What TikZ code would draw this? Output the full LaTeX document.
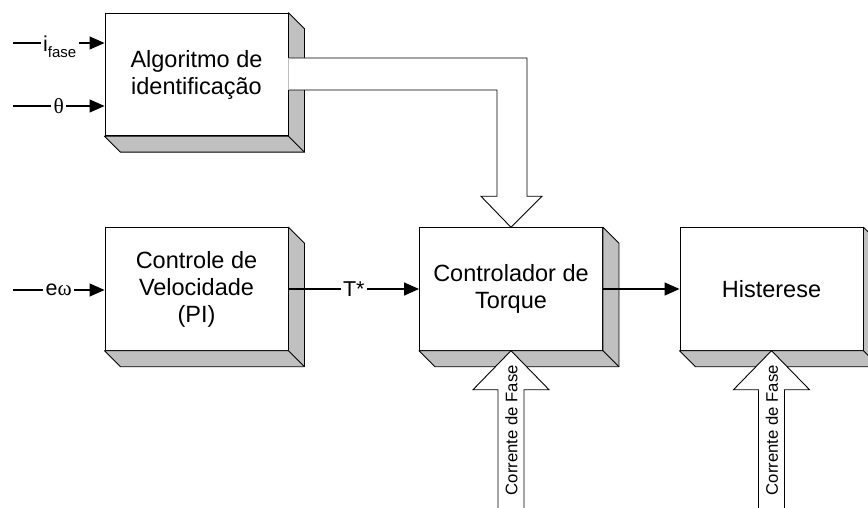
\documentclass[tikz,border=0pt]{standalone}
\usepackage{fontspec}
\setmainfont{Liberation Sans}
\newfontfamily\grk{Liberation Serif}
\usetikzlibrary{arrows.meta,calc}
\definecolor{boxgray}{HTML}{C0C0C0}

% gray right and bottom faces of a raised block
\newcommand\depthsides[1]{%
  \draw[side] (#1.north east) -- ++(16,16) -- ($(#1.south east)+(16,16)$)
    -- ($(#1.south west)+(16,16)$) -- (#1.south west) -- (#1.south east) -- cycle;
  \draw[side] (#1.south east) -- ++(16,16);}

\begin{document}
\begin{tikzpicture}[x=1pt,y=-1pt,
  blk/.style={draw=black,line width=0.9pt,fill=white,minimum width=183pt,
    minimum height=122.5pt,inner sep=0pt,align=center,
    font=\fontsize{23.5}{27}\selectfont},
  side/.style={draw=black,line width=0.9pt,fill=boxgray,line join=round},
  arr/.style={line width=1.3pt,-{Triangle[length=15pt,width=13pt]}},
  lbl/.style={fill=white,inner sep=2.5pt,font=\fontsize{21.5}{21.5}\selectfont},
  hollow/.style={draw=black,line width=0.9pt,fill=white,line join=miter},
  vtxt/.style={rotate=90,inner sep=0pt,font=\fontsize{16.7}{17}\selectfont}]

\useasboundingbox (0,0) rectangle (868,508);

% blocks
\node[blk] (alg) at (196.5,74.5) {Algoritmo de\\identificação};
\depthsides{alg}
\node[blk] (vel) at (196.5,289) {Controle de\\Velocidade\\(PI)};
\depthsides{vel}
\node[blk] (tor) at (511,289) {Controlador de\\Torque};
\depthsides{tor}
\node[blk] (his) at (771.5,289) {Histerese};
\depthsides{his}

% wide arrow from the identification block down to the torque controller
\coordinate (t1) at ([yshift=16.5pt]alg.east);
\coordinate (t2) at ([yshift=-15.5pt]alg.east);
\coordinate (oR) at ($(tor.north)+(16,-31)$);
\coordinate (oL) at ($(tor.north)+(-14,-31)$);
\draw[hollow] (t1) -- (t1 -| oR) -- (oR) -- ($(oR)+(15,0)$) -- (tor.north)
  -- ($(oL)+(-16,0)$) -- (oL) -- (oL |- t2) -- (t2);
\draw[gray!50,line width=0.9pt] (t1) -- (t2);

% phase current inputs
\foreach \b in {tor,his}{
  \draw[hollow] ($(\b.south)+(-13,165)$) -- ($(\b.south)+(-13,39)$)
    -- ($(\b.south)+(-38,39)$) -- (\b.south) -- ($(\b.south)+(38,39)$)
    -- ($(\b.south)+(13,39)$) -- ($(\b.south)+(13,165)$);
  \node[vtxt] (c\b) at ($(\b.south)+(0.5,79.5)$) {Corrente de Fase};
}

% signal inputs and connections
\coordinate (ifase) at (13,43);
\coordinate (theta) at (13,106);
\coordinate (eomega) at (13,290);
\draw[arr] (ifase) -- node[lbl,yshift=-4pt,xshift=1pt] (lifase) {i\raisebox{-6pt}{\fontsize{15}{15}\selectfont fase}} (ifase -| alg.west);
\draw[arr] (theta) -- node[lbl] (ltheta) {\grk θ} (theta -| alg.west);
\draw[arr] (eomega) -- node[lbl] (leomega) {e{\grk ω}} (eomega -| vel.west);
\draw[arr] (vel.east) -- node[lbl] (ltstar) {T*} (tor.west);
\draw[arr] (tor.east) -- (his.west);
\end{tikzpicture}
\end{document}
